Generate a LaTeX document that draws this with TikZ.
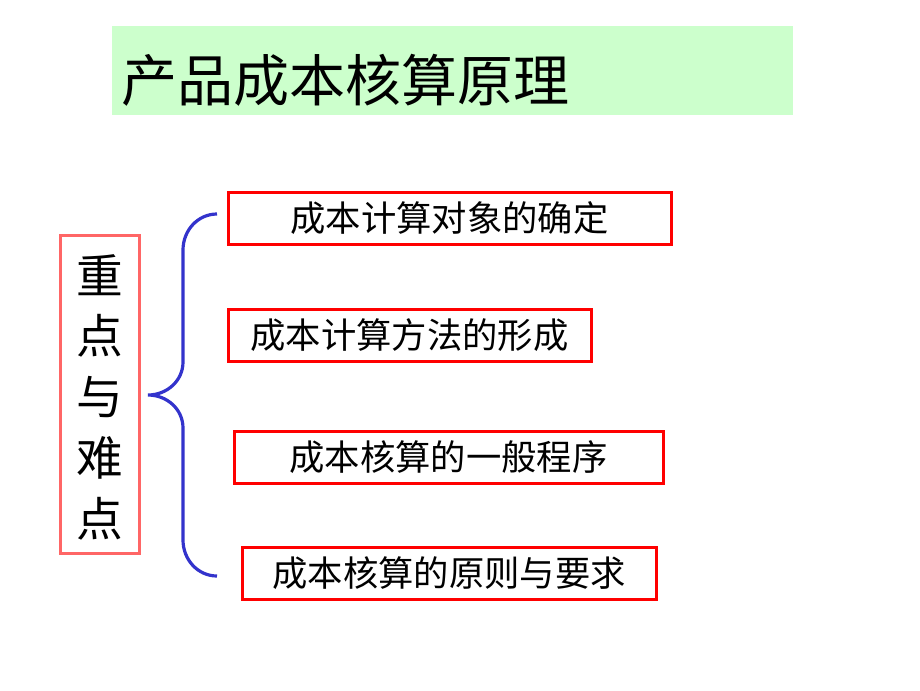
\documentclass[tikz,border=0pt]{standalone}
\usepackage{fontspec}
\newfontfamily\cjk{Noto Sans CJK SC}
\definecolor{titlegreen}{HTML}{CCFFCC}
\definecolor{salmon}{HTML}{FF6666}
\definecolor{bracebl}{HTML}{3333CC}
\begin{document}
\begin{tikzpicture}[x=0.75pt,y=-0.75pt,
  redbox/.style={draw=red,line width=2.25pt,inner sep=0pt,minimum height=39pt,font=\cjk\fontsize{26.5}{26.5}\selectfont},
  every node/.style={text=black}]
\useasboundingbox (0,0) rectangle (920,690);
\fill[white] (0,0) rectangle (920,690);
% title
\node[fill=titlegreen,minimum width=510.75pt,minimum height=66.75pt,inner sep=0pt] (title) at (452.5,70.5) {};
\node[anchor=west,inner sep=0pt,font=\cjk\fontsize{42}{42}\selectfont] (titletext) at (121,80) {产品成本核算原理};
% left box
\node[draw=salmon,line width=2.25pt,minimum width=59.25pt,minimum height=238.5pt,inner sep=0pt] (key) at (99.5,394) {};
\foreach \c/\y [count=\i] in {重/275,点/336,与/397,难/458,点/519}
  \node[font=\cjk\fontsize{35}{35}\selectfont,inner sep=0pt] (k\i) at (99.5,\y) {\c};
% boxes
\node[redbox,minimum width=332.25pt] (b1) at (449.5,218.5) {成本计算对象的确定};
\node[redbox,minimum width=272.25pt] (b2) at (409.5,335) {成本计算方法的形成};
\node[redbox,minimum width=321.75pt] (b3) at (448.5,457.5) {成本核算的一般程序};
\node[redbox,minimum width=310.5pt] (b4) at (449,573.5) {成本核算的原则与要求};
% brace
\coordinate (btop) at (217,214);
\coordinate (bbot) at (217,576);
\coordinate (btip) at (148,395);
\draw[bracebl,line width=2.4pt] (btop) to[out=180,in=90] (183,250) -- (183,362)
  to[out=-90,in=0] (btip) to[out=0,in=90] (183,428) -- (183,540) to[out=-90,in=180] (bbot);
\end{tikzpicture}
\end{document}
